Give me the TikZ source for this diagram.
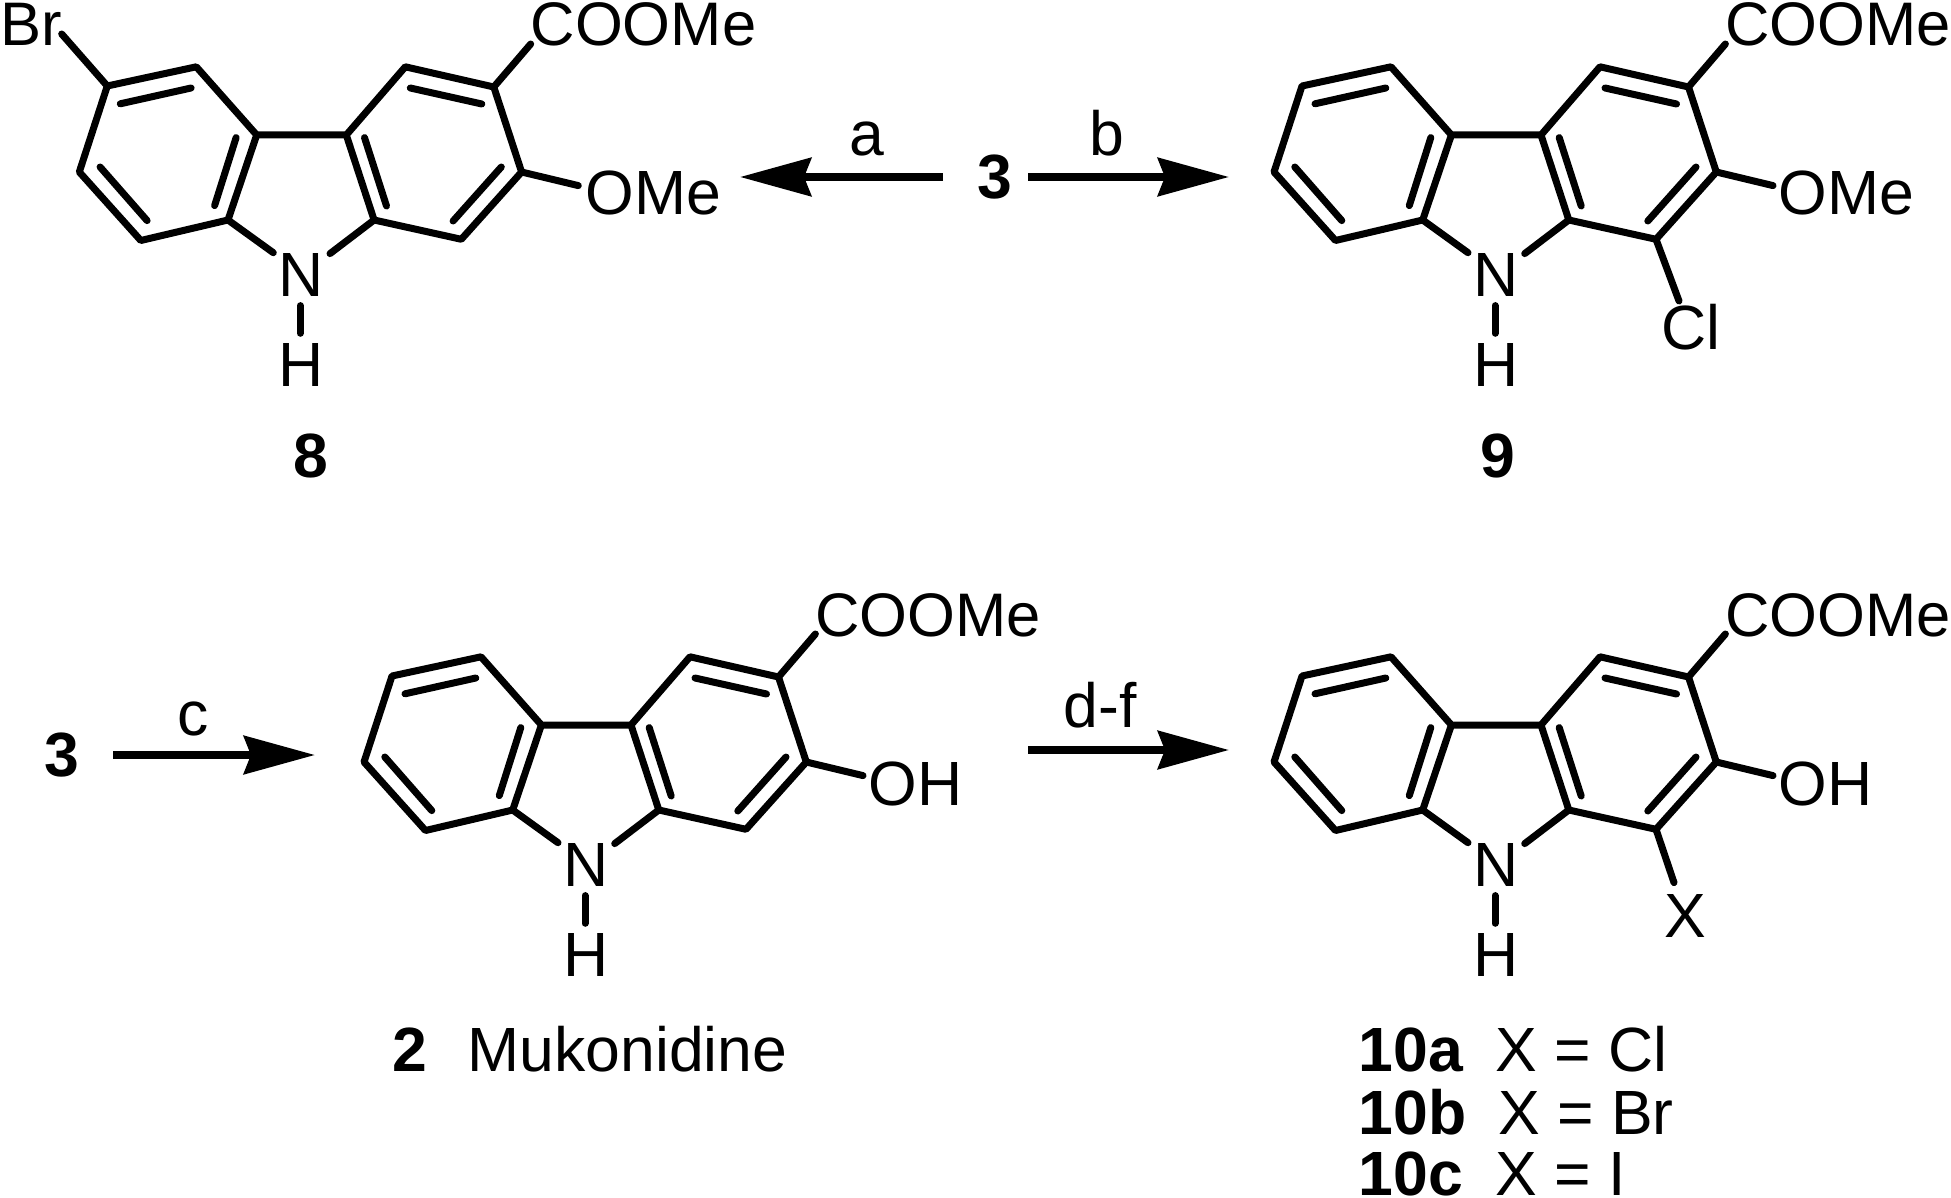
\documentclass[tikz,border=0pt]{standalone}
\usepackage{fontspec}
\setmainfont{Liberation Sans}
\usetikzlibrary{arrows.meta}
\tikzset{
  bond/.style={line width=7pt,line cap=round,line join=round,black},
  lab/.style={inner sep=0pt,anchor=base west,font=\fontsize{62.5}{62.5}\selectfont},
  labs/.style={inner sep=0pt,anchor=base west,font=\fontsize{61.5}{61.5}\selectfont},
  labc/.style={inner sep=0pt,anchor=base,font=\fontsize{62.5}{62.5}\selectfont},
  cmp/.style={inner sep=0pt,anchor=base,font=\fontsize{62.5}{62.5}\selectfont\bfseries},
  cmpw/.style={inner sep=0pt,anchor=base west,font=\fontsize{62.5}{62.5}\selectfont\bfseries},
  rxn/.style={line width=8pt,-{Stealth[length=71pt,width=38pt,inset=7pt]}}
}
% carbazole core: prefix, dx, dy
\newcommand{\carbazole}[3]{%
 \begin{scope}[shift={(#2,#3)}]
  \coordinate (#1a1) at (1391,656.8);
  \coordinate (#1a2) at (1302,676);
  \coordinate (#1a3) at (1274,762);
  \coordinate (#1a4) at (1335.5,830.5);
  \coordinate (#1a5) at (1422.7,810);
  \coordinate (#1a6) at (1451.4,725);
  \coordinate (#1b6) at (1541,725);
  \coordinate (#1b5) at (1568.8,810);
  \coordinate (#1b4) at (1656,829.3);
  \coordinate (#1b3) at (1716.3,762);
  \coordinate (#1b2) at (1688.5,677);
  \coordinate (#1b1) at (1600,656.8);
  \coordinate (#1nl) at (1468,842.7);
  \coordinate (#1nr) at (1524.7,843.6);
  \coordinate (#1nb) at (1495,895.6);
  \coordinate (#1hb) at (1495,923.3);
  \coordinate (#1co) at (1725.4,634);
  \coordinate (#1oh) at (1773,775.6);
  \node[labc] (#1N) at (1496,886.7) {N};
  \node[labc] (#1H) at (1496,976) {H};
  \node[labs] (#1COOMe) at (1725.2,636) {COOMe};
  \draw[bond] (#1a6) -- (#1a1) -- (#1a2) -- (#1a3) -- (#1a4) -- (#1a5) -- (#1a6) -- (#1b6) -- (#1b1) -- (#1b2) -- (#1b3) -- (#1b4) -- (#1b5) -- (#1b6);
  \draw[bond] (#1a5) -- (#1nl);
  \draw[bond] (#1b5) -- (#1nr);
  \draw[bond] (#1nb) -- (#1hb);
  \draw[bond] (#1b2) -- (#1co);
  \draw[bond] (#1b3) -- (#1oh);
  \draw[bond] (1385.8,678) -- (1315,693.8);
  \draw[bond] (1294.8,757) -- (1341.8,810.6);
  \draw[bond] (1409.3,795.6) -- (1430.8,727.6);
  \draw[bond] (1559.2,727.6) -- (1581.2,796);
  \draw[bond] (1647.8,811) -- (1696,757);
  \draw[bond] (1676.5,694) -- (1605,678);
 \end{scope}}
\begin{document}
\begin{tikzpicture}[x=1pt,y=-1pt]
\useasboundingbox (0,0) rectangle (1951,1198);
\carbazole{e}{-1194.7}{-590}
\carbazole{n}{0}{-590}
\carbazole{m}{-910}{0}
\carbazole{t}{0}{0}
% compound 8
\coordinate (eb) at (61.7,34);
\node[labs] (Br) at (0,46) {Br};
\draw[bond] (ea2) -- (eb);
\node[lab] (eOMe) at (585.5,215) {OMe};
\node[cmp] (l8) at (311,477) {8};
% compound 9
\node[lab] (nOMe) at (1778.5,215) {OMe};
\coordinate (ncl) at (1679,301);
\draw[bond] (nb4) -- (ncl);
\node[lab] (Cl) at (1661,349) {Cl};
\node[cmp] (l9) at (1498,477) {9};
% compound 2
\node[lab] (mOH) at (868.5,805) {OH};
\node[cmp] (l2) at (410,1071) {2};
\node[lab] (muk) at (467.5,1071) {Mukonidine};
% compound 10
\node[lab] (tOH) at (1778.5,805) {OH};
\coordinate (tx) at (1674,882.6);
\draw[bond] (tb4) -- (tx);
\node[labc] (X) at (1685,937.5) {X};
\node[cmpw] (l10a) at (1358.5,1071) {10a};
\node[lab] (xa) at (1495,1071) {X = Cl};
\node[cmpw] (l10b) at (1358.5,1134.5) {10b};
\node[lab] (xb) at (1498,1134.5) {X = Br};
\node[cmpw] (l10c) at (1358.5,1195) {10c};
\node[lab] (xc) at (1495,1195) {X = I};
% reactions
\node[cmp] (r3a) at (995,199) {3};
\node[cmp] (r3b) at (62,776) {3};
\coordinate (a0) at (943,177); \coordinate (a1) at (740,177);
\coordinate (b0) at (1028,177); \coordinate (b1) at (1229,177);
\coordinate (c0) at (113,755); \coordinate (c1) at (315,755);
\coordinate (d0) at (1028,750); \coordinate (d1) at (1229,750);
\draw[rxn] (a0) -- (a1);
\draw[rxn] (b0) -- (b1);
\draw[rxn] (c0) -- (c1);
\draw[rxn] (d0) -- (d1);
\node[labc] (la) at (867,156) {a};
\node[labc] (lb) at (1107,156) {b};
\node[labc] (lc) at (193,735) {c};
\node[labc] (ld) at (1100,727) {d-f};
\end{tikzpicture}
\end{document}
